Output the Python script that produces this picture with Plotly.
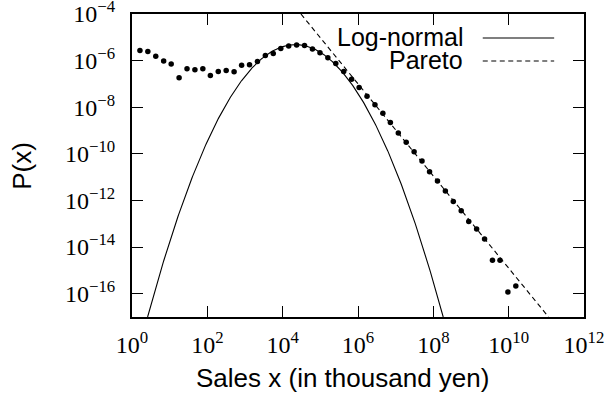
import numpy as np
import plotly.graph_objects as go

# ---- data ----
log10_sales = [0.21, 0.42, 0.63, 0.84, 1.04, 1.25, 1.46, 1.67, 1.88, 2.08,
               2.29, 2.50, 2.71, 2.91, 3.12, 3.33, 3.54, 3.75, 3.95, 4.16,
               4.37, 4.58, 4.79, 4.99, 5.20, 5.41, 5.62, 5.83, 6.03, 6.24,
               6.45, 6.66, 6.86, 7.07, 7.28, 7.49, 7.70, 7.90, 8.11, 8.32,
               8.53, 8.74, 8.94, 9.15, 9.36, 9.57, 9.77, 9.98, 10.19]
log10_px = [-5.57, -5.61, -5.81, -6.02, -6.15, -6.73, -6.35, -6.39, -6.35, -6.64,
            -6.47, -6.42, -6.48, -6.20, -6.18, -6.04, -5.78, -5.69, -5.48, -5.37,
            -5.33, -5.35, -5.50, -5.66, -5.88, -6.12, -6.47, -6.80, -7.15, -7.53,
            -7.89, -8.26, -8.66, -9.11, -9.50, -9.91, -10.31, -10.77, -11.16, -11.59,
            -12.04, -12.44, -12.90, -13.22, -13.65, -14.57, -14.57, -15.93, -15.67]

# log-normal fit (parabola in log-log space)
lognorm_peak_log10x = 4.338
lognorm_peak_log10p = -5.31
lognorm_curvature = 0.759

# Pareto fit: P(x) ~ x^-slope
pareto_slope = 1.977
pareto_ref_log10x = 4.505
pareto_ref_log10p = -4.04

x_tickvals = [0, 2, 4, 6, 8, 10, 12]
y_tickvals = [-16, -14, -12, -10, -8, -6, -4]
x_range = [-0.0005, 12.0005]
y_range = [-17, -3.9995]

# ---- derived curves ----
sales = [10 ** v for v in log10_sales]
px_vals = [10 ** v for v in log10_px]

half_width = np.sqrt((lognorm_peak_log10p - y_range[0]) / lognorm_curvature)
u = np.linspace(lognorm_peak_log10x - half_width, lognorm_peak_log10x + half_width, 400)
ln_y = lognorm_peak_log10p - lognorm_curvature * (u - lognorm_peak_log10x) ** 2

u_par_start = pareto_ref_log10x - (-4 - pareto_ref_log10p) / pareto_slope
u_par_end = pareto_ref_log10x + (pareto_ref_log10p - y_range[0]) / pareto_slope
u_par = np.array([u_par_start, u_par_end])
par_y = pareto_ref_log10p - pareto_slope * (u_par - pareto_ref_log10x)

def sup_label(e):
    s = str(e).replace("-", "\u2212")
    return "10<sup>%s</sup>" % s

fig = go.Figure()
fig.add_trace(go.Scatter(x=10 ** u, y=10 ** ln_y, mode="lines",
                         line=dict(color="black", width=1.1), name="Log-normal",
                         showlegend=False, hoverinfo="skip"))
fig.add_trace(go.Scatter(x=10 ** u_par, y=10 ** par_y, mode="lines",
                         line=dict(color="black", width=1.1, dash="5px,3.5px"),
                         name="Pareto", showlegend=False, hoverinfo="skip"))
fig.add_trace(go.Scatter(x=sales, y=px_vals, mode="markers",
                         marker=dict(color="black", size=5.5), showlegend=False))

tickfont = dict(family="Liberation Serif, Times New Roman, serif", size=24, color="black")
sans = "Liberation Sans, Arial, Helvetica, sans-serif"

fig.update_xaxes(type="log", range=x_range, tickvals=[10 ** v for v in x_tickvals],
                 ticktext=[sup_label(v) for v in x_tickvals], automargin=False,
                 ticklabeloverflow="allow",
                 ticks="inside", ticklen=11, tickwidth=1.3, tickcolor="black",
                 showline=True, linewidth=2, linecolor="black", mirror="ticks",
                 showgrid=False, zeroline=False, tickfont=tickfont, ticklabelstandoff=5)
fig.update_yaxes(type="log", range=y_range, tickvals=[10 ** v for v in y_tickvals],
                 ticktext=[sup_label(v) for v in y_tickvals], automargin=False,
                 ticklabeloverflow="allow",
                 ticks="inside", ticklen=11, tickwidth=1.3, tickcolor="black",
                 showline=True, linewidth=2, linecolor="black", mirror="ticks",
                 showgrid=False, zeroline=False, tickfont=tickfont, ticklabelstandoff=10)

# axis titles
fig.add_annotation(text="Sales x (in thousand yen)", xref="paper", yref="paper",
                   x=0.4668, y=-0.2, xanchor="center", yanchor="middle", showarrow=False,
                   font=dict(family=sans, size=26, color="black"))
fig.add_annotation(text="P(x)", xref="paper", yref="paper", textangle=-90,
                   x=-0.245, y=0.5, xanchor="center", yanchor="middle", showarrow=False,
                   font=dict(family=sans, size=26, color="black"))

# legend (gnuplot style: text right-aligned, sample to the right)
legend_entries = [("Log-normal", "solid"), ("Pareto", "5px,3.5px")]
leg_y = [0.925, 0.849]
for (label, dash), yy in zip(legend_entries, leg_y):
    fig.add_annotation(text=label, xref="paper", yref="paper", x=0.737, y=yy,
                       xanchor="right", yanchor="middle", showarrow=False,
                       font=dict(family=sans, size=25, color="black"))
    fig.add_shape(type="line", xref="paper", yref="paper", x0=0.776, x1=0.934,
                  y0=yy - 0.004, y1=yy - 0.004, line=dict(color="black", width=1.1, dash=dash))

fig.update_layout(template="none", width=607, height=401,
                  margin=dict(l=132, r=23, t=14, b=84),
                  plot_bgcolor="white", paper_bgcolor="white", showlegend=False)

fig.write_html("out.html", config={"displayModeBar": False},
               post_script="document.body.style.margin='0px';document.body.style.padding='0px';")
